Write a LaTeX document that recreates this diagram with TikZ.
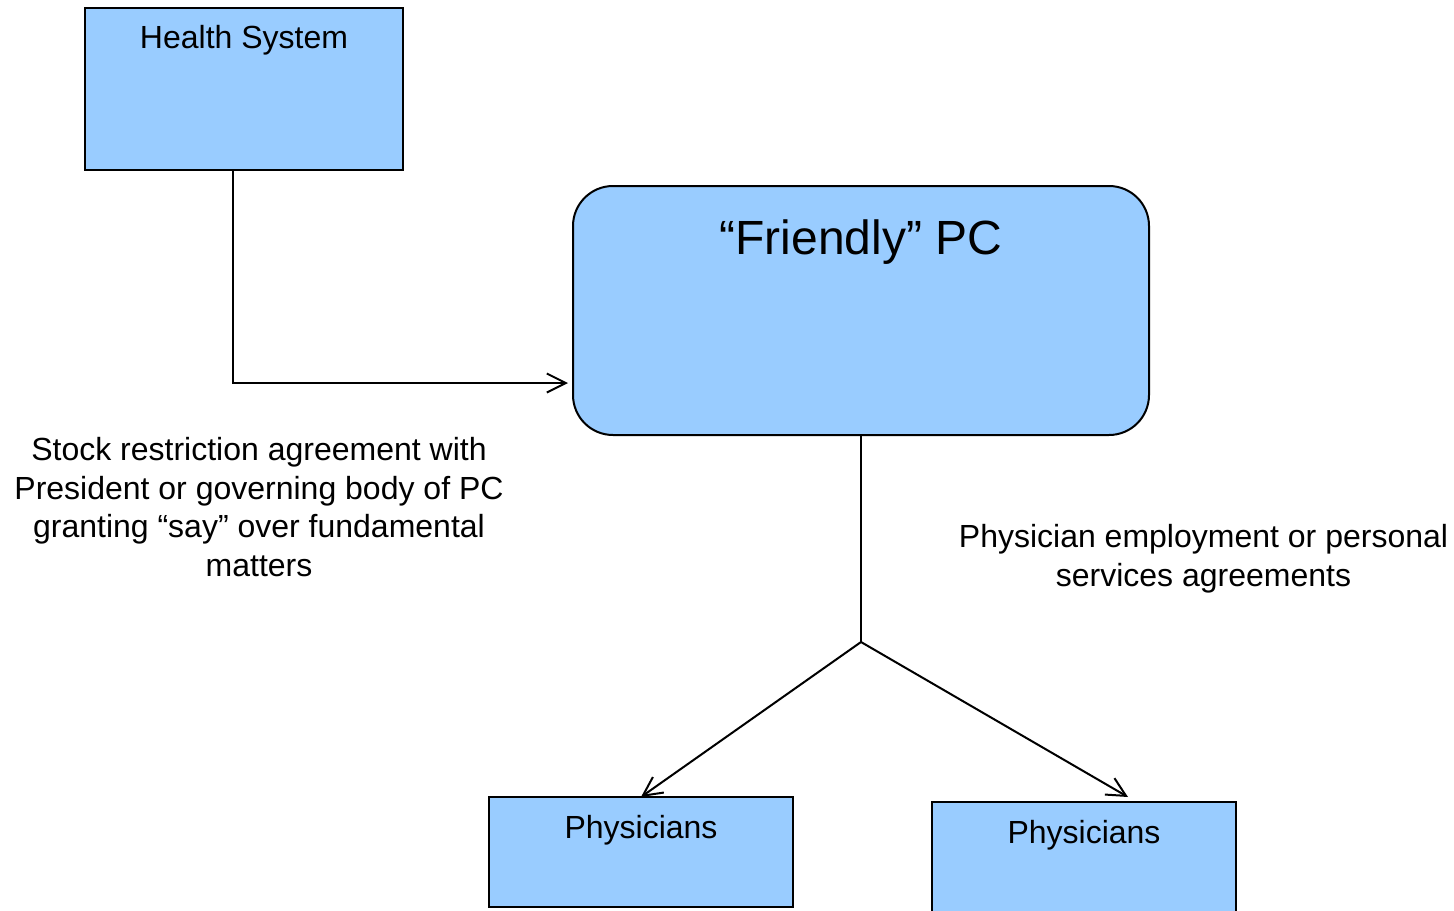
\documentclass[tikz,border=0pt]{standalone}
\usepackage{fontspec}
\setmainfont{Liberation Sans}
\usetikzlibrary{arrows.meta}
\definecolor{boxblue}{HTML}{99CCFF}
\begin{document}
\begin{tikzpicture}[x=0.5pt,y=-0.5pt,
  box/.style={draw=black,line width=1pt,fill=boxblue,inner sep=0pt,outer sep=0pt},
  boxlabel/.style={anchor=base,inner sep=0pt,font=\fontsize{16}{19.25}\selectfont},
  conn/.style={line width=1pt,draw=black},
  arr/.style={conn,-{Straight Barb[length=9.5pt,width=9.5pt,line width=1pt]}},
  note/.style={align=center,inner sep=0pt,anchor=north,font=\fontsize{16}{19.25}\selectfont}]
\clip (0,0) rectangle (1454,910);
\fill[white] (0,0) rectangle (1454,910);
% boxes
\node[box,minimum width=159pt,minimum height=81pt,
  label={[boxlabel,yshift=-20pt]north:Health System}] (hs) at (244,89) {};
\node[box,rounded corners=20pt,minimum width=288pt,minimum height=124.5pt,
  label={[boxlabel,yshift=-34pt,font=\fontsize{24}{28}\selectfont]north:“Friendly” PC}] (pc) at (861,310.5) {};
\node[box,minimum width=152pt,minimum height=55pt,
  label={[boxlabel,yshift=-20.5pt]north:Physicians}] (ph1) at (641,852) {};
\node[box,minimum width=152pt,minimum height=57pt,
  label={[boxlabel,yshift=-20.5pt]north:Physicians}] (ph2) at (1084,859) {};
% notes
\node[note] (n1) at (259,437) {Stock restriction agreement with\\President or governing body of PC\\granting “say” over fundamental\\matters};
\node[note] (n2) at (1203.5,524) {Physician employment or personal\\services agreements};
% connectors
\coordinate (split) at (861,642);
\draw[arr] ([xshift=-5.5pt]hs.south) |- ([xshift=-2.5pt,yshift=-36.25pt]pc.west);
\draw[conn] (pc.south) -- (split);
\draw[arr] (split) -- (ph1.north);
\draw[arr] (split) -- ([xshift=22pt,yshift=2.5pt]ph2.north);
\end{tikzpicture}
\end{document}
